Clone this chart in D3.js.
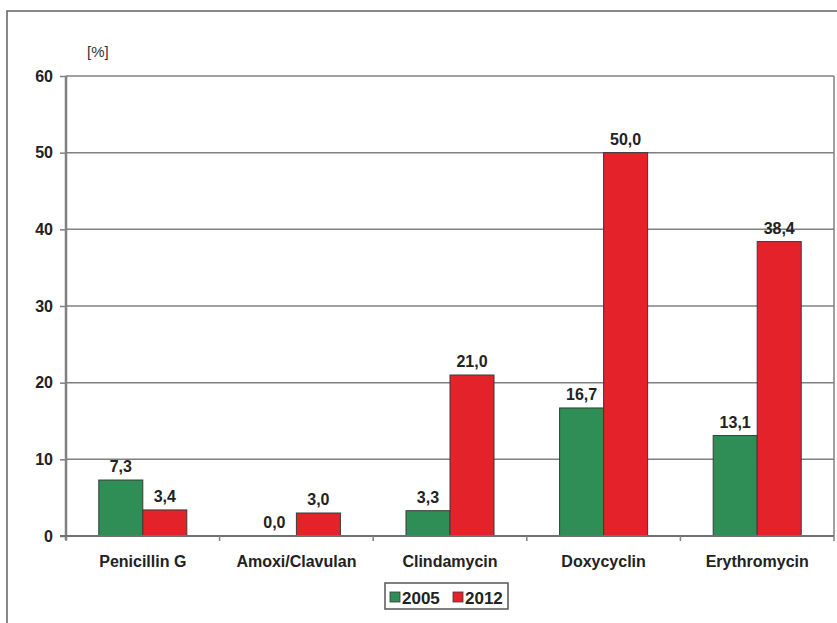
<!DOCTYPE html>
<html><head><meta charset="utf-8">
<script src="https://cdn.jsdelivr.net/npm/d3@7"></script>
<style>
html,body{margin:0;padding:0;background:#fff;}
text{font-family:"Liberation Sans",Arial,sans-serif;}
</style></head>
<body>
<svg id="c" width="837" height="623"></svg>
<script>
const categories = ["Penicillin G", "Amoxi/Clavulan", "Clindamycin", "Doxycyclin", "Erythromycin"];
const seriesNames = ["2005", "2012"];
const values2005 = [7.3, 0.0, 3.3, 16.7, 13.1];
const values2012 = [3.4, 3.0, 21.0, 50.0, 38.4];
const yTicks = [0, 10, 20, 30, 40, 50, 60];
const colors = ["#2e8e56", "#e3222a"];

const svg = d3.select("#c");
const L = 66, R = 834, T = 76, B = 536;

// outer frame (cropped on right/bottom)
svg.append("rect").attr("x", 7).attr("y", 11).attr("width", 900).attr("height", 700)
  .attr("fill", "none").attr("stroke", "#606060").attr("stroke-width", 1.5);

const x = d3.scaleBand().domain(categories).range([L, R]).padding(0);
const xs = d3.scaleBand().domain(seriesNames).range([0, x.bandwidth()]).paddingInner(0).paddingOuter(0.745);
const y = d3.scaleLinear().domain([0, 60]).range([B, T]);

// gridlines
svg.append("g").selectAll("line").data(yTicks.filter(d => d > 0)).join("line")
  .attr("x1", L).attr("x2", R).attr("y1", d => y(d)).attr("y2", d => y(d))
  .attr("stroke", "#808080").attr("stroke-width", 1.5);
// right plot border
svg.append("line").attr("x1", R).attr("x2", R).attr("y1", T).attr("y2", B)
  .attr("stroke", "#808080").attr("stroke-width", 1.5);

// bars
const data = categories.map((c, i) => ({c, vals: [values2005[i], values2012[i]]}));
const g = svg.append("g");
data.forEach(d => {
  d.vals.forEach((v, j) => {
    const bx = x(d.c) + xs(seriesNames[j]);
    if (v > 0) {
      g.append("rect").attr("x", bx).attr("y", y(v)).attr("width", xs.bandwidth()).attr("height", y(0) - y(v))
        .attr("fill", colors[j]).attr("stroke", "#3a3a3a").attr("stroke-width", 1);
    }
    g.append("text").attr("x", bx + xs.bandwidth() / 2).attr("y", y(v) - 8)
      .attr("text-anchor", "middle").attr("font-size", 16).attr("font-weight", "bold").attr("fill", "#222")
      .text(d3.format(".1f")(v).replace(".", ","));
  });
});

// y axis
const yAxis = d3.axisLeft(y).tickValues(yTicks).tickSize(6).tickFormat(d3.format("d"));
const ya = svg.append("g").attr("transform", `translate(${L},0)`).call(yAxis);
ya.select(".domain").attr("stroke", "#808080").attr("stroke-width", 2.5).attr("d", `M0,${T}V${B + 4}`);
ya.selectAll(".tick line").attr("stroke", "#808080").attr("stroke-width", 1.5);
ya.selectAll(".tick text").attr("x", -13).attr("font-size", 16).attr("font-weight", "bold").attr("fill", "#222")
  .attr("font-family", "Liberation Sans, Arial, sans-serif");

// x axis
const xa = svg.append("g").attr("transform", `translate(0,${B})`);
xa.append("line").attr("x1", L - 6).attr("x2", R).attr("y1", 0).attr("y2", 0)
  .attr("stroke", "#707070").attr("stroke-width", 2);
const bounds = categories.map(c => x(c)).concat([R]);
xa.selectAll("line.tk").data(bounds).join("line").attr("class", "tk")
  .attr("x1", d => d).attr("x2", d => d).attr("y1", 0).attr("y2", 5)
  .attr("stroke", "#808080").attr("stroke-width", 1.5);
xa.selectAll("text").data(categories).join("text")
  .attr("x", d => x(d) + x.bandwidth() / 2).attr("y", 31)
  .attr("text-anchor", "middle").attr("font-size", 16).attr("font-weight", "bold").attr("fill", "#222")
  .text(d => d);

// unit label
svg.append("text").attr("x", 87).attr("y", 57).attr("font-size", 15).attr("fill", "#333").text("[%]");

// legend
const lg = svg.append("g");
lg.append("rect").attr("x", 385).attr("y", 583).attr("width", 123).attr("height", 26)
  .attr("fill", "#fff").attr("stroke", "#555").attr("stroke-width", 1.5);
const lx = [390, 453];
seriesNames.forEach((s, i) => {
  lg.append("rect").attr("x", lx[i]).attr("y", 592).attr("width", 10).attr("height", 10)
    .attr("fill", colors[i]).attr("stroke", "#3a3a3a").attr("stroke-width", 0.8);
  lg.append("text").attr("x", lx[i] + 12).attr("y", 604).attr("font-size", 17).attr("font-weight", "bold").attr("fill", "#222").text(s);
});
</script>
</body></html>
